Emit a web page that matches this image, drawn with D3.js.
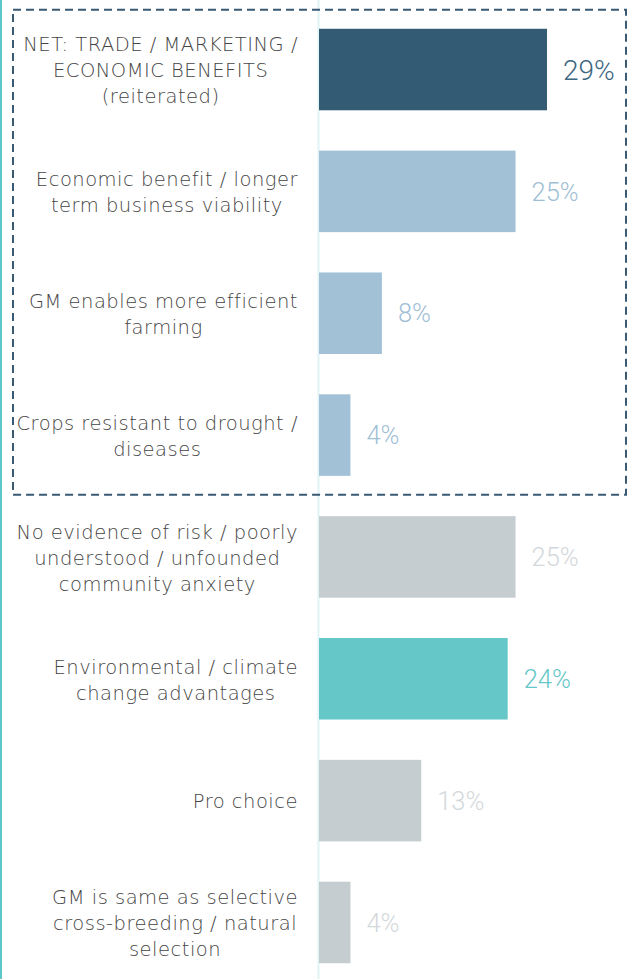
<!DOCTYPE html>
<html>
<head>
<meta charset="utf-8">
<script src="https://cdn.jsdelivr.net/npm/d3@7"></script>
<style>
  html, body { margin: 0; padding: 0; background: #fff; }
  svg { display: block; }
</style>
</head>
<body>
<svg id="chart" width="634" height="979"></svg>
<script>
// Reasons given, one entry per bar (lines as they wrap in the label column)
const categories = [
  ["NET: TRADE / MARKETING /", "ECONOMIC BENEFITS", "(reiterated)"],
  ["Economic benefit / longer", "term business viability"],
  ["GM enables more efficient", "farming"],
  ["Crops resistant to drought /", "diseases"],
  ["No evidence of risk / poorly", "understood / unfounded", "community anxiety"],
  ["Environmental / climate", "change advantages"],
  ["Pro choice"],
  ["GM is same as selective", "cross-breeding / natural", "selection"]
];
// Share of respondents (%)
const values = [29, 25, 8, 4, 25, 24, 13, 4];
// Which group each reason belongs to
const groups = ["net", "sub", "sub", "sub", "other", "env", "other", "other"];
// Rows grouped inside the dashed box (trade / economic reasons)
const boxedRows = [0, 3];

const barColor = { net: "#335b73", sub: "#a2c1d6", other: "#c5cdd0", env: "#66c7c8" };
const valueColor = { net: "#3d6681", sub: "#9fbfd5", other: "#d3d8db", env: "#66c7c8" };

const svg = d3.select("#chart");
const W = 634, H = 979;
const x0 = 319;

const x = d3.scaleLinear().domain([0, 29]).range([x0, 547]);
const y = d3.scaleBand()
  .domain(d3.range(values.length))
  .range([8.6, 983.4])
  .paddingInner(0.331)
  .paddingOuter(0.1655);

// teal rule down the left edge
svg.append("rect").attr("x", 0).attr("y", 0).attr("width", 2).attr("height", H)
  .attr("fill", "#5cc6ca");

// category axis line
svg.append("line")
  .attr("x1", x0 - 0.5).attr("x2", x0 - 0.5)
  .attr("y1", 0).attr("y2", H)
  .attr("stroke", "#e2f4f5").attr("stroke-width", 2);

// bars
svg.append("g").selectAll("rect")
  .data(values)
  .join("rect")
  .attr("x", x(0))
  .attr("y", (d, i) => y(i))
  .attr("width", d => x(d) - x(0))
  .attr("height", y.bandwidth())
  .attr("fill", (d, i) => barColor[groups[i]]);

// value labels
svg.append("g").selectAll("text")
  .data(values)
  .join("text")
  .attr("x", d => x(d) + 16)
  .attr("y", (d, i) => y(i) + y.bandwidth() / 2)
  .attr("dy", "0.36em")
  .attr("font-family", "Roboto, sans-serif")
  .attr("font-weight", 300)
  .attr("font-size", (d, i) => i === 0 ? 28 : 25.5)
  .attr("fill", (d, i) => valueColor[groups[i]])
  .text(d => d + "%");

// category labels: lines centred within their block, block set flush against the axis
const labelRight = 298;
const lineGap = 26;
const labelG = svg.append("g")
  .attr("font-family", "'Century Gothic', 'DejaVu Sans', sans-serif")
  .attr("font-weight", 300)
  .attr("font-size", 19.5)
  .attr("letter-spacing", 0.5)
  .attr("fill", "#454545");

categories.forEach((lines, i) => {
  const cy = y(i) + y.bandwidth() / 2 + 1;
  const t = labelG.append("text").attr("text-anchor", "middle");
  const spans = lines.map((ln, k) =>
    t.append("tspan")
      .attr("y", cy + (k - (lines.length - 1) / 2) * lineGap)
      .attr("dy", "0.35em")
      .text(ln));
  const widest = d3.max(spans, s => s.node().getComputedTextLength());
  spans.forEach(s => s.attr("x", labelRight - widest / 2));
});

// dashed box around the trade / economic group
const bTop = y(boxedRows[0]) - 19;
const bBot = y(boxedRows[1]) + y.bandwidth() + 19;
svg.append("rect")
  .attr("x", 13).attr("y", bTop)
  .attr("width", 626 - 13).attr("height", bBot - bTop)
  .attr("fill", "none")
  .attr("stroke", "#3a5a73")
  .attr("stroke-width", 2)
  .attr("stroke-dasharray", "8 5");
</script>
</body>
</html>
